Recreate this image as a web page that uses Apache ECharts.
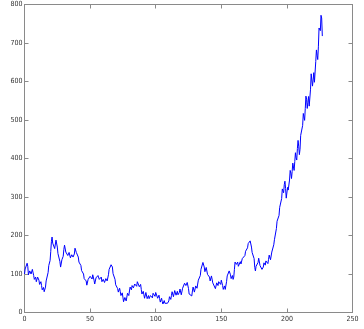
<!DOCTYPE html>
<html>
<head>
<meta charset="utf-8">
<script src="https://cdn.jsdelivr.net/npm/echarts@6/dist/echarts.min.js"></script>
<style>
  html, body { margin: 0; padding: 0; background: #fff; }
  #chart { width: 364px; height: 329px; }
</style>
</head>
<body>
<div id="chart"></div>
<script>
// Price path sampled every half step (x = index * stepSize)
const stepSize = 0.5;
const priceValues = [
  100,113, 112,113, 128,120, 98,96, 108,111, 100,99, 112,111, 96,86, 90,92, 80,79,
  92,95, 84,73, 76,80, 70,59, 62,65, 54,53, 66,82, 84,87, 104,122, 126,135,
  158,184, 196,180, 178,179, 166,170, 188,186, 170,153, 150,148, 132,118, 118,137, 142,146,
  164,175, 172,157, 156,159, 148,145, 156,156, 142,139, 150,154, 144,141, 152,167, 168,156,
  158,158, 144,131, 132,134, 122,109, 110,112, 100,88, 90,93, 82,71, 74,86, 84,82,
  94,99, 90,87, 98,98, 84,74, 78,90, 88,85, 96,98, 86,81, 90,92, 80,76,
  86,89, 78,76, 88,92, 82,83, 98,112, 112,111, 124,128, 118,101, 98,99, 86,72,
  72,74, 62,53, 58,63, 54,44, 48,51, 40,28, 30,39, 34,30, 40,50, 46,44,
  56,66, 62,59, 70,74, 64,62, 74,79, 70,68, 80,85, 76,67, 72,73, 60,48,
  50,55, 46,37, 42,52, 48,36, 38,44, 36,33, 44,49, 40,38, 50,55, 46,42,
  52,57, 48,37, 40,45, 36,27, 32,37, 28,22, 26,31, 24,19, 22,29, 24,22,
  30,41, 38,34, 44,54, 50,41, 46,57, 54,45, 50,55, 46,42, 52,61, 56,46,
  50,63, 62,62, 76,80, 70,67, 78,77, 62,48, 48,53, 44,43, 56,66, 62,53,
  58,69, 66,63, 74,84, 80,81, 96,112, 114,115, 130,131, 118,106, 108,117, 112,99,
  100,103, 92,82, 86,95, 90,77, 78,82, 72,62, 66,77, 74,70, 80,85, 76,73,
  84,84, 70,60, 64,69, 60,63, 80,95, 96,95, 108,110, 98,88, 92,96, 86,92,
  112,131, 136,125, 128,131, 120,115, 124,132, 126,126, 140,145, 136,135, 148,159, 156,155,
  168,179, 176,174, 186,185, 170,156, 156,155, 140,117, 108,120, 118,117, 130,141, 138,122,
  120,123, 112,108, 118,129, 126,123, 134,139, 130,127, 138,149, 146,137, 142,157, 158,159,
  176,189, 186,192, 218,237, 236,234, 252,273, 270,271, 296,321, 318,311, 332,341, 322,297,
  300,325, 318,315, 344,369, 362,348, 366,388, 378,369, 392,415, 402,396, 426,447, 432,410,
  424,460, 460,455, 486,517, 508,499, 530,562, 554,530, 546,561, 536,538, 580,620, 616,588,
  604,623, 598,603, 652,682, 668,657, 690,739, 740,732, 772,765, 718
];

const xTicks = [0, 50, 100, 150, 200, 250];
const yTicks = [0, 100, 200, 300, 400, 500, 600, 700, 800];

const seriesData = priceValues.map((v, i) => [i * stepSize, v]);

const axisGray = '#8a8a8a';
const labelStyle = {
  color: '#333',
  fontSize: 7,
  fontFamily: '"Liberation Sans Narrow", "DejaVu Sans Condensed", sans-serif'
};

function baseAxis(extra) {
  return Object.assign({
    type: 'value',
    axisLine: { show: true, onZero: false, lineStyle: { color: axisGray, width: 1 } },
    axisTick: { show: true, inside: true, length: 4, lineStyle: { color: axisGray, width: 1 } },
    splitLine: { show: false }
  }, extra);
}

const chart = echarts.init(document.getElementById('chart'), null, { renderer: 'canvas' });
chart.setOption({
  animation: false,
  backgroundColor: '#fff',
  grid: { left: 24.5, right: 11.5, top: 4.5, bottom: 16.5 },
  xAxis: [
    baseAxis({
      position: 'bottom', min: xTicks[0], max: xTicks[xTicks.length - 1], interval: 50,
      axisLabel: Object.assign({ margin: 3 }, labelStyle)
    }),
    baseAxis({
      position: 'top', min: xTicks[0], max: xTicks[xTicks.length - 1], interval: 50,
      axisLabel: { show: false }
    })
  ],
  yAxis: [
    baseAxis({
      position: 'left', min: yTicks[0], max: yTicks[yTicks.length - 1], interval: 100,
      axisLabel: Object.assign({ margin: 2 }, labelStyle)
    }),
    baseAxis({
      position: 'right', min: yTicks[0], max: yTicks[yTicks.length - 1], interval: 100,
      axisLabel: { show: false }
    })
  ],
  series: [{
    type: 'line',
    xAxisIndex: 0,
    yAxisIndex: 0,
    data: seriesData,
    showSymbol: false,
    symbol: 'none',
    lineStyle: { color: '#0000ff', width: 1 },
    itemStyle: { color: '#0000ff' }
  }]
});
</script>
</body>
</html>
